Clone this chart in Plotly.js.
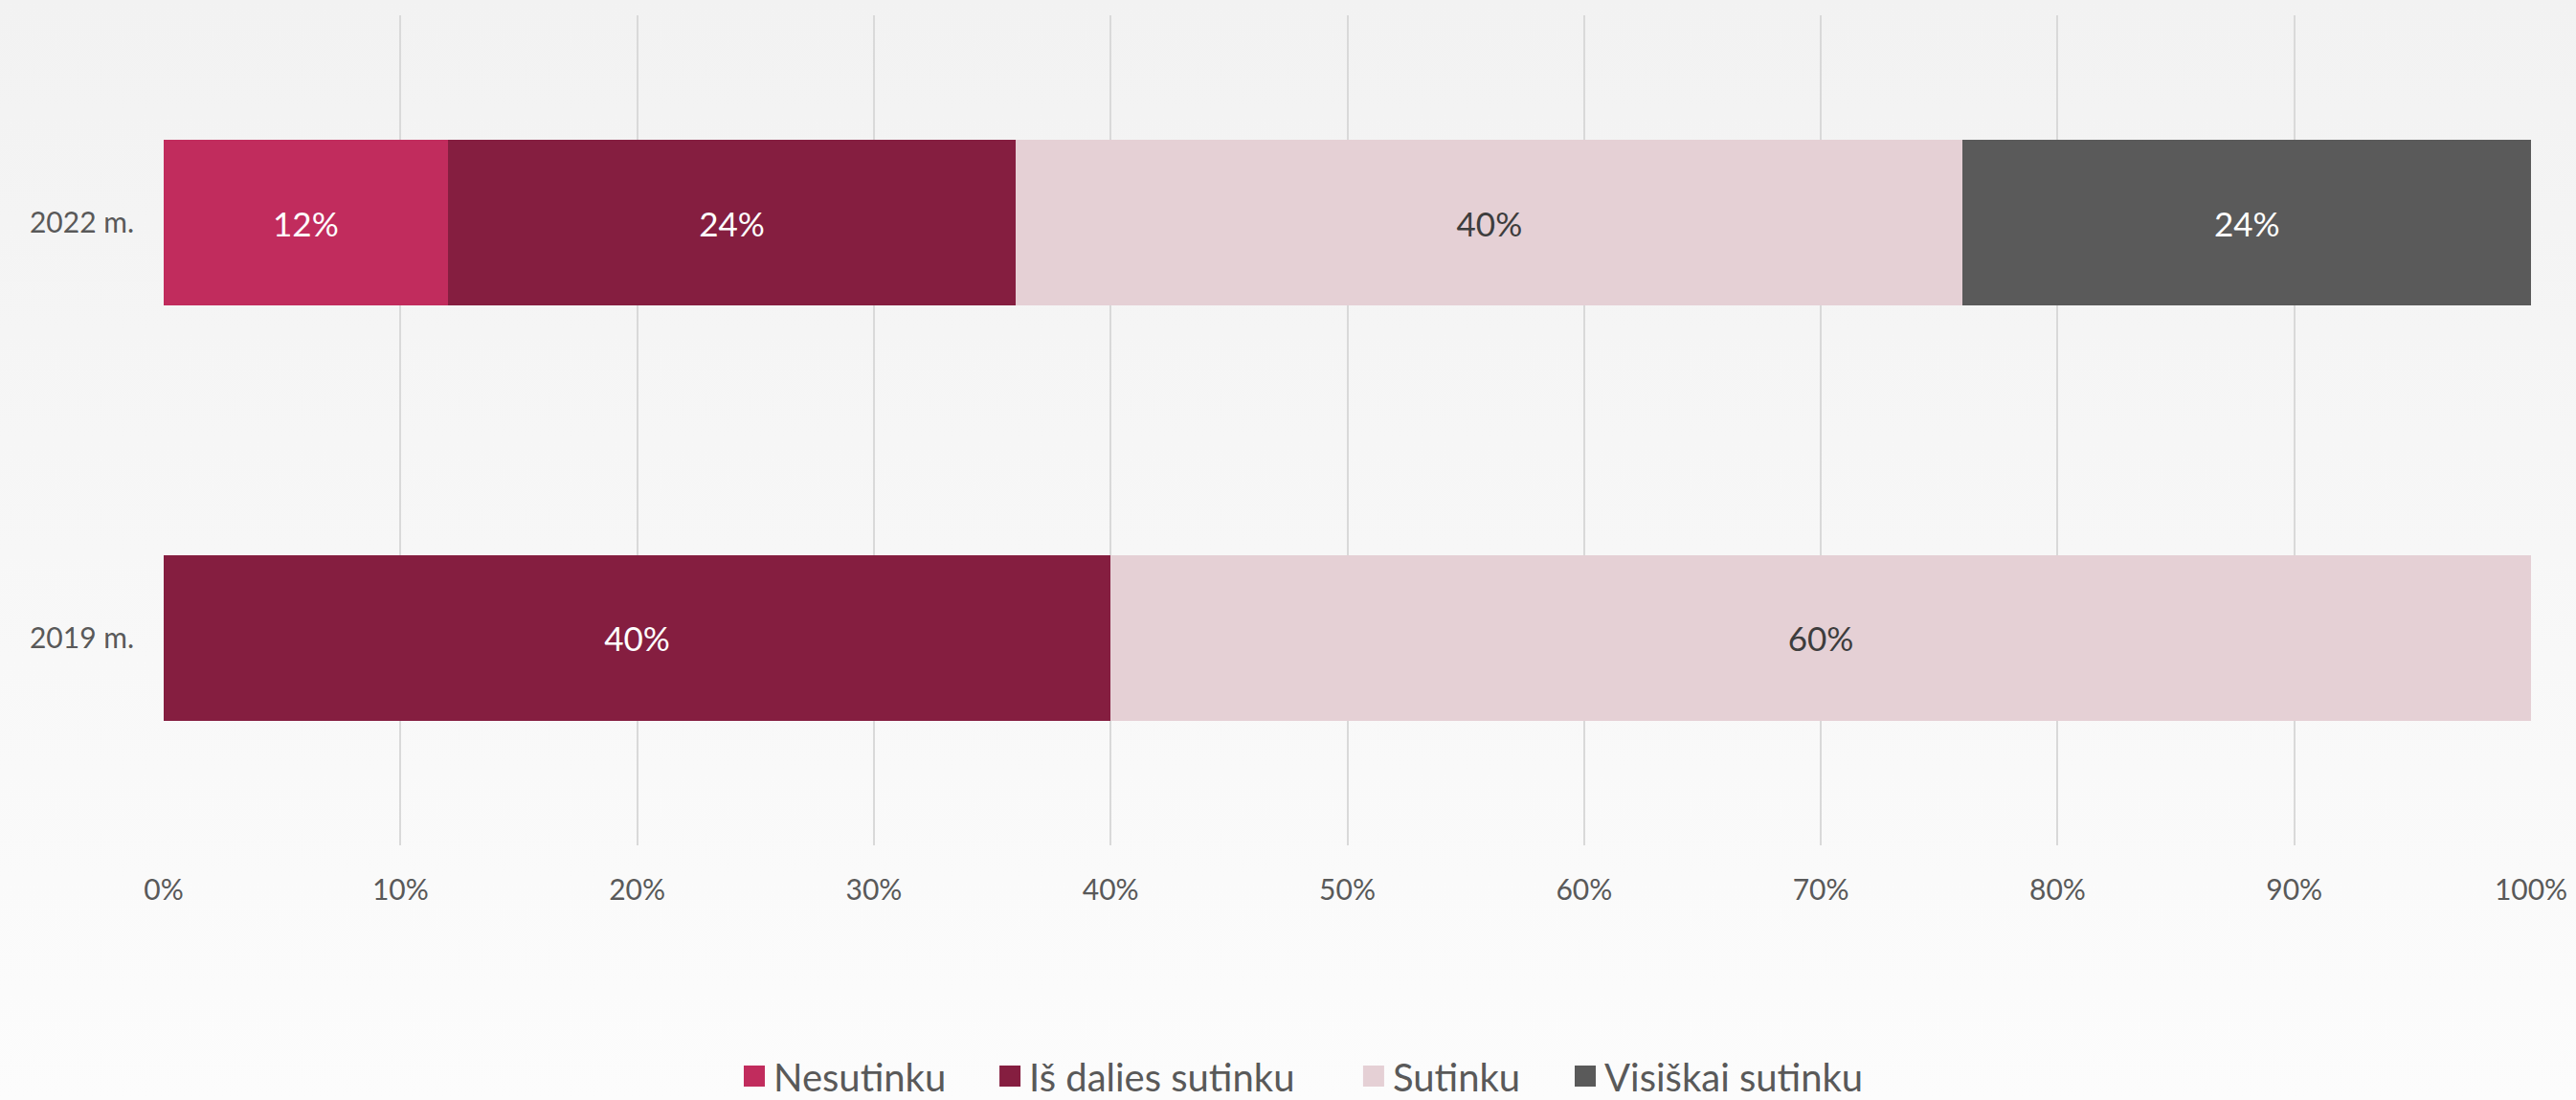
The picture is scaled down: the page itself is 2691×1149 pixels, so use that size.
<!DOCTYPE html>
<html>
<head>
<meta charset="utf-8">
<script src="https://cdn.plot.ly/plotly-3.0.1.min.js"></script>
<style>
  html, body { margin: 0; padding: 0; }
  body { width: 2691px; height: 1149px; background: linear-gradient(to bottom, #f2f2f2 0%, #fcfcfc 100%); overflow: hidden; }
  #chart { width: 2691px; height: 1149px; }
  /* larger legend swatches, as in the reference */
  g.legendpoints path { d: path('M11,11H-11V-11H11Z') !important; }
</style>
</head>
<body>
<div id="chart"></div>
<script>
// Categories (bottom to top)
const years = ["2019 m.", "2022 m."];
// Series values (percent)
const nesutinku = [null, 12];
const isDaliesSutinku = [40, 24];
const sutinku = [60, 40];
const visiskaiSutinku = [null, 24];
// Series names
const seriesNames = ["Nesutinku", "Iš dalies sutinku", "Sutinku", "Visiškai sutinku"];
// Tick values and labels
const xTickVals = [0, 10, 20, 30, 40, 50, 60, 70, 80, 90, 100];
const xTickText = ["0%", "10%", "20%", "30%", "40%", "50%", "60%", "70%", "80%", "90%", "100%"];

const colors = ["#C12C5D", "#851E40", "#E5D0D5", "#5A5A5A"];
const textColors = ["#ffffff", "#ffffff", "#3d3d3d", "#ffffff"];
const seriesValues = [nesutinku, isDaliesSutinku, sutinku, visiskaiSutinku];
const legendIds = ["legend", "legend2", "legend3", "legend4"];
const legendX = [0.2414, 0.3494, 0.5030, 0.5924];

const FONT = "Lato, 'Open Sans', sans-serif";

const traces = seriesValues.map((vals, i) => ({
  type: "bar",
  orientation: "h",
  name: seriesNames[i],
  legend: legendIds[i],
  y: years,
  x: vals,
  text: vals.map(v => (v === null ? "" : v + "%")),
  textposition: "inside",
  insidetextanchor: "middle",
  textangle: 0,
  constraintext: "none",
  textfont: { family: FONT, size: 35, color: textColors[i] },
  marker: { color: colors[i], line: { width: 0 } },
  hoverinfo: "skip"
}));

function legendDef(i) {
  return {
    orientation: "h",
    x: legendX[i],
    xanchor: "left",
    y: -0.278,
    yanchor: "middle",
    font: { family: FONT, size: 40, color: "#595959" },
    bgcolor: "rgba(0,0,0,0)",
    borderwidth: 0,
    itemclick: false,
    itemdoubleclick: false
  };
}

const layout = {
  width: 2691,
  height: 1149,
  barmode: "stack",
  bargap: 0.6,
  paper_bgcolor: "rgba(0,0,0,0)",
  plot_bgcolor: "rgba(0,0,0,0)",
  margin: { l: 171, r: 47, t: 16, b: 266, autoexpand: false },
  font: { family: FONT, size: 30, color: "#595959" },
  xaxis: {
    range: [0, 100],
    tickmode: "array",
    tickvals: xTickVals,
    ticktext: xTickText,
    showgrid: true,
    gridcolor: "#d9d9d9",
    gridwidth: 2,
    zeroline: false,
    showline: false,
    ticks: "",
    ticklabelstandoff: 26,
    tickfont: { family: FONT, size: 30, color: "#595959" },
    fixedrange: true
  },
  yaxis: {
    type: "category",
    categoryorder: "array",
    categoryarray: years,
    range: [-0.5, 1.5],
    showgrid: false,
    zeroline: false,
    showline: false,
    ticks: "",
    ticklabelstandoff: 30,
    tickfont: { family: FONT, size: 30, color: "#595959" },
    fixedrange: true
  },
  showlegend: true,
  legend: legendDef(0),
  legend2: legendDef(1),
  legend3: legendDef(2),
  legend4: legendDef(3),
  uniformtext: { mode: false }
};

Plotly.newPlot("chart", traces, layout, { displayModeBar: false, staticPlot: true });
</script>
</body>
</html>
